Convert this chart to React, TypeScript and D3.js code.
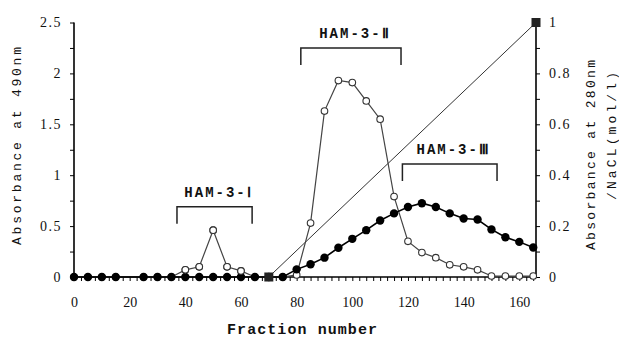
import * as d3 from 'd3'
import { useEffect, useRef } from 'react'

// fraction numbers (20 is missing in the original run)
const fractions = [
    0, 5, 10, 15, 25, 30, 35, 40, 45, 50, 55, 60, 65, 70, 75, 80, 85, 90, 95,
    100, 105, 110, 115, 120, 125, 130, 135, 140, 145, 150, 155, 160, 165,
]
// absorbance at 490nm (open circles, left axis)
const abs490 = [
    0, 0, 0, 0, 0, 0, 0, 0.07, 0.1, 0.46, 0.1, 0.06, 0, 0, 0, 0.02, 0.53, 1.63,
    1.93, 1.91, 1.73, 1.55, 0.79, 0.35, 0.24, 0.19, 0.12, 0.1, 0.07, 0.01, 0.01,
    0.01, 0.01,
]
// absorbance at 280nm (filled circles, right axis)
const abs280 = [
    0, 0, 0, 0, 0, 0, 0, 0, 0, 0, 0, 0, 0, 0, 0, 0.03, 0.05, 0.076, 0.115, 0.15,
    0.184, 0.222, 0.25, 0.275, 0.29, 0.275, 0.25, 0.23, 0.226, 0.187, 0.156,
    0.138, 0.116,
]
// NaCl gradient (mol/l, right axis)
const naclFractions = [70, 166]
const naclValues = [0, 1]

// pooled peaks
const poolNames = ['HAM-3-Ⅰ', 'HAM-3-Ⅱ', 'HAM-3-Ⅲ']
const poolStart = [37, 81.5, 118]
const poolEnd = [64, 117.5, 152]
const poolLevel = [0.69, 2.25, 1.11]

const W = 619
const H = 338

export default function App() {
    const svgRef = useRef<SVGSVGElement>(null)

    useEffect(() => {
        if (!svgRef.current) return
        const svg = d3.select(svgRef.current)
        svg.selectAll('*').remove()

        const left = 74
        const right = 536
        const top = 22.5
        const bottom = 277

        const x = d3.scaleLinear().domain([0, 166]).range([left, right])
        const yL = d3.scaleLinear().domain([0, 2.5]).range([bottom, top])
        const yR = d3.scaleLinear().domain([0, 1]).range([bottom, top])

        const serif = '"Liberation Serif", "DejaVu Serif", serif'
        const mono = '"Liberation Mono", "DejaVu Sans Mono", monospace'

        // bottom axis
        const xAxis = d3
            .axisBottom(x)
            .tickValues(d3.range(0, 166, 2.5))
            .tickSize(4)
            .tickPadding(16)
            .tickFormat((d) => ((d as number) % 20 === 0 ? String(d) : ''))
        const gx = svg
            .append('g')
            .attr('transform', `translate(0,${bottom})`)
            .call(xAxis)
        gx.select('.domain').attr('d', `M${left},0H${right}`)

        // left axis
        const yAxisL = d3
            .axisLeft(yL)
            .tickValues(d3.range(0, 2.51, 0.25))
            .tickSize(4)
            .tickPadding(8)
            .tickFormat((d) =>
                Math.abs(((d as number) * 2) % 1) < 1e-6 ? String(d) : ''
            )
        const gyl = svg
            .append('g')
            .attr('transform', `translate(${left},0)`)
            .call(yAxisL)
        gyl.select('.domain').attr('d', `M0,${top}V${bottom}`)

        // right axis
        const yAxisR = d3
            .axisRight(yR)
            .tickValues(d3.range(0, 1.01, 0.1))
            .tickSize(4)
            .tickPadding(9)
            .tickFormat((d) => {
                const v = Math.round((d as number) * 10)
                return v % 2 === 0 ? String(v / 10) : ''
            })
        const gyr = svg
            .append('g')
            .attr('transform', `translate(${right},0)`)
            .call(yAxisR)
        gyr.select('.domain').attr('d', `M0,${top}V${bottom}`)

        ;[gx, gyl, gyr].forEach((g) =>
            g.attr('font-family', serif).attr('font-size', 14)
        )
        svg.selectAll('.domain').attr('stroke', '#000').attr('stroke-width', 1.6)
        svg.selectAll('.tick line').attr('stroke', '#000').attr('stroke-width', 1)
        svg.selectAll('.tick text').attr('fill', '#111')
        gyl.selectAll('.tick text').style('letter-spacing', '1.5px')
        gyr.selectAll('.tick text').style('letter-spacing', '1.5px')

        // axis titles
        const title = (
            tx: number,
            ty: number,
            len: number,
            label: string,
            rotate: boolean
        ) =>
            svg
                .append('text')
                .attr(
                    'transform',
                    `translate(${tx},${ty})${rotate ? ' rotate(-90)' : ''}`
                )
                .attr('text-anchor', 'middle')
                .attr('textLength', len)
                .attr('lengthAdjust', 'spacing')
                .attr('font-family', mono)
                .attr('font-size', 13)
                .attr('fill', '#111')
                .text(label)

        title(21, 146, 198, 'Absorbance at 490nm', true)
        title(595, 155, 190, 'Absorbance at 280nm', true)
        title(616, 136, 128, '/NaCL(mol/l)', true)
        title(302, 334, 150, 'Fraction number', false)
            .attr('font-size', 15)
            .attr('font-weight', 'bold')

        // NaCl gradient
        const nacl = naclFractions.map((f, i) => [f, naclValues[i]])
        svg.append('path')
            .datum(nacl)
            .attr(
                'd',
                d3
                    .line<number[]>()
                    .x((d) => x(d[0]))
                    .y((d) => yR(d[1]))
            )
            .attr('fill', 'none')
            .attr('stroke', '#333')
            .attr('stroke-width', 1)

        // open circles series
        const open = fractions.map((f, i) => [f, abs490[i]])
        svg.append('path')
            .datum(open)
            .attr(
                'd',
                d3
                    .line<number[]>()
                    .x((d) => x(d[0]))
                    .y((d) => yL(d[1]))
            )
            .attr('fill', 'none')
            .attr('stroke', '#444')
            .attr('stroke-width', 1.2)
        svg.append('g')
            .selectAll('circle')
            .data(open)
            .join('circle')
            .attr('cx', (d) => x(d[0]))
            .attr('cy', (d) => yL(d[1]))
            .attr('r', 3.3)
            .attr('fill', '#fff')
            .attr('stroke', '#333')
            .attr('stroke-width', 1.1)

        // filled circles series
        const filled = fractions.map((f, i) => [f, abs280[i]])
        svg.append('path')
            .datum(filled)
            .attr(
                'd',
                d3
                    .line<number[]>()
                    .x((d) => x(d[0]))
                    .y((d) => yR(d[1]))
            )
            .attr('fill', 'none')
            .attr('stroke', '#000')
            .attr('stroke-width', 1.6)
        svg.append('g')
            .selectAll('circle')
            .data(filled)
            .join('circle')
            .attr('cx', (d) => x(d[0]))
            .attr('cy', (d) => yR(d[1]))
            .attr('r', 4.2)
            .attr('fill', '#000')

        // open circles that sit above the baseline stay on top
        svg.append('g')
            .selectAll('circle')
            .data(open.filter((d) => d[1] >= 0.05 && d[0] < 70))
            .join('circle')
            .attr('cx', (d) => x(d[0]))
            .attr('cy', (d) => yL(d[1]))
            .attr('r', 3.3)
            .attr('fill', '#fff')
            .attr('stroke', '#333')
            .attr('stroke-width', 1.1)

        // NaCl end points
        svg.append('g')
            .selectAll('rect')
            .data(nacl)
            .join('rect')
            .attr('x', (d) => x(d[0]) - 4.5)
            .attr('y', (d) => yR(d[1]) - 4.5)
            .attr('width', 9)
            .attr('height', 9)
            .attr('fill', '#222')

        // pooled fraction brackets
        poolNames.forEach((name, i) => {
            const x0 = x(poolStart[i])
            const x1 = x(poolEnd[i])
            const yt = yL(poolLevel[i])
            svg.append('path')
                .attr('d', `M${x0},${yt + 17}V${yt}H${x1}V${yt + 17}`)
                .attr('fill', 'none')
                .attr('stroke', '#222')
                .attr('stroke-width', 1.5)
            svg.append('text')
                .attr('x', (x0 + x1) / 2 + 4)
                .attr('y', yt - 10)
                .attr('text-anchor', 'middle')
                .attr('font-family', mono)
                .attr('font-size', 14)
                .attr('font-weight', 'bold')
                .style('letter-spacing', '2px')
                .attr('fill', '#111')
                .text(name)
        })
    }, [])

    return (
        <>
            <style>{'body{margin:0;background:#fff}'}</style>
            <svg ref={svgRef} width={W} height={H} />
        </>
    )
}
